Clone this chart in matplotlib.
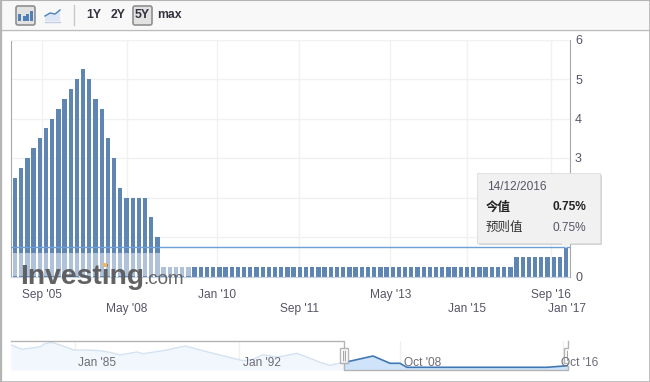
"""Fed funds rate bar chart with range navigator, investing.com widget look."""
import matplotlib
matplotlib.use("Agg")
import matplotlib.pyplot as plt
from matplotlib.patches import FancyBboxPatch, Polygon, Rectangle

plt.rcParams["font.family"] = ["Liberation Sans", "Noto Sans CJK SC", "DejaVu Sans"]

W, H = 650, 382

# one bar per rate decision, Sep '05 .. Dec '16
rates = [2.5, 2.75, 3.0, 3.25, 3.5, 3.75, 4.0, 4.25, 4.5, 4.75, 5.0, 5.25,
         5.0, 4.5, 4.25, 3.5, 3.0, 2.25, 2.0, 2.0, 2.0, 2.0, 1.5, 1.0] + \
        [0.25] * 57 + [0.5] * 8 + [0.75]
tick_pos = [4.4, 18.1, 32.6, 45.9, 60.6, 73.0, 86.6, 89.2]
tick_labels = ["Sep '05", "May '08", "Jan '10", "Sep '11", "May '13", "Jan '15", "Sep '16", "Jan '17"]
y_ticks = [0, 1, 2, 3, 4, 5, 6]
y_tick_labels = ["0", "", "", "3", "4", "5", "6"]  # 1 and 2 sit behind the tooltip

nav_x = [0, 11, 21, 30, 33, 40, 47, 63, 76, 89, 99, 109, 126, 132, 152, 174, 202, 232,
         242, 252, 266, 286, 299, 309, 319, 334, 362, 379, 389, 396, 536, 557]
nav_y = [25, 20.7, 22, 23.3, 26, 27.7, 25.7, 20, 20, 19.3, 17.7, 15, 18, 16.3, 19.3, 24,
         16.7, 9.3, 10.7, 15.3, 12.7, 16.7, 11.7, 7.7, 4.7, 7.7, 14, 6.7, 6.7, 2.7, 2.7, 4.3]
nav_labels = ["Jan '85", "Jan '92", "Oct '08", "Oct '16"]
nav_grid_x = [64, 228, 389, 552]
nav_label_x = [67, 232, 393, 550]
nav_sel = (333, 557)

BAR = "#5f86b3"
GRID = "#f1f1f1"
AXIS = "#a8a8a8"
TXT = "#555566"


def px_axes(x0, y0, x1, y1):
    # axes placed by pixel box, y measured from the top of the image
    return fig.add_axes([x0 / W, 1 - y1 / H, (x1 - x0) / W, (y1 - y0) / H])


fig = plt.figure(figsize=(W / 100, H / 100), dpi=100, facecolor="white")

# main chart
ax = px_axes(11, 39.5, 569.5, 276.5)
bar_w = 0.7
ax.bar(range(len(rates)), rates, width=bar_w, color=BAR, zorder=2)
ax.set_xlim(-0.65, 89.55)
ax.set_ylim(0, 6)
ax.set_xticks(tick_pos[:-1])
ax.set_xticklabels([])
ax.set_yticks(y_ticks)
ax.set_yticklabels(y_tick_labels)
ax.yaxis.tick_right()
ax.tick_params(length=0, labelsize=9, labelcolor=TXT, pad=4)
ax.grid(color=GRID, lw=1, zorder=0)
ax.set_axisbelow(True)
ax.spines["top"].set_color(GRID)
ax.spines["bottom"].set_color("#c8d3e2")
ax.spines["left"].set_color(AXIS)
ax.spines["right"].set_color(AXIS)

for i, (pos, lab) in enumerate(zip(tick_pos, tick_labels)):
    ax.annotate(lab, (pos, 0), xytext=(0, -18.5 if i % 2 == 0 else -32.5),
                textcoords="offset pixels", ha="center", va="center",
                fontsize=8.6, color=TXT, annotation_clip=False)

# crosshair at the hovered value
ax.axhline(rates[-1], color="#6f9fd8", lw=1, zorder=3)

# overlay in image pixels: toolbar, frame, watermark, tooltip
ov = fig.add_axes([0, 0, 1, 1], facecolor="none", zorder=5)
ov.set_xlim(0, W)
ov.set_ylim(H, 0)
ov.axis("off")

# white veil behind the watermark
ov.add_patch(Rectangle((12, 253), 180, 23, fc="white", alpha=0.5, ec="none"))
ov.text(20, 276.5, "Investing", fontsize=20.3, fontweight="bold", color="#5a5a5c",
        ha="left", va="center", alpha=0.95)
ov.text(143, 279, ".com", fontsize=13.5, color="#66666a", ha="left", va="center")
ov.add_patch(Rectangle((102.5, 262.5), 4, 4.5, fc="#f0b85a", ec="none", zorder=4))

# tooltip
ov.add_patch(Rectangle((479, 175), 123, 70, fc="#c4c4c4", ec="none", alpha=0.7))
ov.add_patch(Rectangle((477, 172.5), 123, 70.5, fc="#f1f1f1", ec="#dcdcdc", lw=0.6))
ov.add_patch(Polygon([(561, 243), (571, 243), (566, 248)], fc="#f1f1f1", ec="none"))
ov.text(487, 187.5, "14/12/2016", fontsize=8.6, color=TXT, va="center")
ov.text(486, 207.5, "今值", fontsize=9, fontweight="bold", color="#222222", va="center")
ov.text(586, 207.5, "0.75%", fontsize=8.6, fontweight="bold", color="#222222", va="center", ha="right")
ov.text(486, 228, "预则值", fontsize=9, color="#333333", va="center")
ov.text(586, 228, "0.75%", fontsize=8.6, color=TXT, va="center", ha="right")

# toolbar
ov.add_patch(Rectangle((1, 1), 648, 28, fc="#f8f8f8", ec="none"))
ov.plot([0, W], [29.5, 29.5], color="#bcbcbc", lw=1)
ov.add_patch(FancyBboxPatch((16, 6), 19, 19, boxstyle="round,pad=0,rounding_size=2",
                            fc="#e2e2e2", ec="#8f8f8f", lw=1.2))
for x0, top in [(18, 14), (22.5, 16), (26, 14), (30, 11)]:
    ov.add_patch(Rectangle((x0, top), 3.2, 21 - top, fc="#4f81b8", ec="none"))
ov.add_patch(Polygon([(45, 16), (50, 13), (55, 14), (60, 10), (60, 21), (45, 21)],
                     fc="#dde6f4", ec="none"))
ov.plot([45, 50, 55, 60], [16, 13, 14, 10], color="#4f81b8", lw=1)
ov.plot([45, 60], [21.5, 21.5], color="#c3cfe0", lw=1)
ov.plot([73.5, 73.5], [5, 25], color="#c8c8c8", lw=1)
ov.add_patch(FancyBboxPatch((133, 6), 19, 19, boxstyle="round,pad=0,rounding_size=2",
                            fc="#e2e2e2", ec="#8f8f8f", lw=1.2))
for x, lab in [(94, "1Y"), (118, "2Y"), (142.5, "5Y"), (169.5, "max")]:
    ov.text(x, 15.5, lab, fontsize=8.8, fontweight="bold", color="#333340", ha="center", va="center")

# outer frame
ov.plot([0.5, 0.5], [0, H], color="#b4b4b4", lw=1.6)
ov.plot([649.5, 649.5], [0, H], color="#b4b4b4", lw=1.2)
ov.plot([0, W], [381.5, 381.5], color="#b4b4b4", lw=1.2)
ov.plot([0, W], [0.3, 0.3], color="#b4b4b4", lw=0.8)

# navigator strip
nav = px_axes(11, 341, 568, 370)
nav.set_xlim(0, 557)
nav.set_ylim(0, 29)
nav.axis("off")
for x in nav_grid_x:
    nav.plot([x, x], [0, 29], color="#f0f0f0", lw=1, zorder=0)
sel0 = nav_sel[0]
n = sum(1 for x in nav_x if x <= sel0)
left_x = nav_x[:n] + [sel0]
left_y = nav_y[:n] + [nav_y[n]]
right_x = [sel0] + nav_x[n:]
right_y = [nav_y[n]] + nav_y[n:]
nav.fill_between(left_x, left_y, 0, color="#f2f7fd", lw=0, zorder=1)
nav.plot(left_x, left_y, color="#d4e2f2", lw=1, zorder=2)
nav.fill_between(right_x, right_y, 0, color="#cfe3fa", lw=0, zorder=1)
nav.plot(right_x, right_y, color="#3f78b5", lw=1.2, zorder=2)
nav.plot([0, sel0, sel0, nav_sel[1], nav_sel[1]], [29.2, 29.2, 0, 0, 4],
         color="#b4b4b4", lw=1, zorder=3, clip_on=False)
for lab, x in zip(nav_labels, nav_label_x):
    nav.text(x, 7.5, lab, fontsize=8.6, color="#6c6c76", ha="left", va="center", zorder=7)
for x in nav_sel:
    nav.add_patch(Rectangle((x - 4, 7.5), 8, 15, fc="white", ec="#a8a8a8", lw=1, zorder=5, alpha=0.85))
    nav.plot([x - 1, x - 1], [10.5, 19.5], color="#a8a8a8", lw=0.8, zorder=6)
    nav.plot([x + 1, x + 1], [10.5, 19.5], color="#a8a8a8", lw=0.8, zorder=6)
nav.plot([nav_sel[1]] * 2, [22, 29], color="#b4b4b4", lw=1, zorder=3, clip_on=False)

fig.savefig("out.png", dpi=100)
